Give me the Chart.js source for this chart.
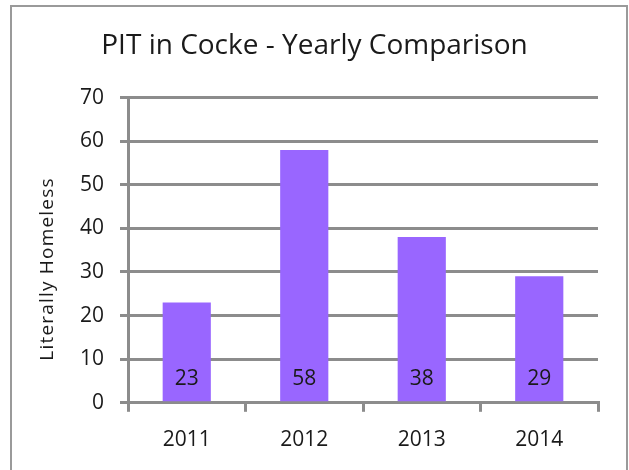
<!DOCTYPE html>
<html>
<head>
<meta charset="utf-8">
<script src="https://cdn.jsdelivr.net/npm/chart.js@4"></script>
<style>
  html, body { margin: 0; padding: 0; background: #fff; overflow: hidden; }
  #wrap { position: relative; width: 629px; height: 470px; }
  #frame { position: absolute; left: 10px; top: 5px; width: 614px; height: 480px;
           border: 2px solid #9a9a9a; pointer-events: none; }
</style>
</head>
<body>
<div id="wrap">
  <canvas id="chart" width="629" height="470"></canvas>
  <div id="frame"></div>
</div>
<script>
const years = ["2011", "2012", "2013", "2014"];
const homeless = [23, 58, 38, 29];
const yTicks = [0, 10, 20, 30, 40, 50, 60, 70];
const yTitle = "Literally Homeless";

const gridGray = "#8c8c8c";
const textCol = "#1a1a1a";
const fontFam = "'Open Sans', sans-serif";

// value labels sitting at the bottom of each bar, plus the spaced-out y title
const extras = {
    id: "extras",
    afterDatasetsDraw(chart) {
        const ctx = chart.ctx;
        const meta = chart.getDatasetMeta(0);
        const base = chart.scales.y.getPixelForValue(0);
        ctx.save();
        ctx.font = "21px " + fontFam;
        ctx.fillStyle = textCol;
        ctx.textAlign = "center";
        ctx.textBaseline = "middle";
        meta.data.forEach((bar, i) => {
            ctx.fillText(String(homeless[i]), bar.x, base - 24);
        });
        ctx.restore();

        ctx.save();
        ctx.font = "19px " + fontFam;
        ctx.letterSpacing = "1.2px";
        ctx.fillStyle = textCol;
        ctx.textAlign = "center";
        ctx.textBaseline = "middle";
        ctx.translate(48, 269);
        ctx.rotate(-Math.PI / 2);
        ctx.fillText(yTitle, 0, 0);
        ctx.restore();
    }
};

new Chart(document.getElementById("chart").getContext("2d"), {
    type: "bar",
    data: {
        labels: years,
        datasets: [{
            label: yTitle,
            data: homeless,
            backgroundColor: "#9966ff",
            borderWidth: 0,
            categoryPercentage: 1,
            barPercentage: 0.41
        }]
    },
    options: {
        responsive: false,
        animation: false,
        layout: { padding: { left: 31, right: 31, top: 0, bottom: 1 } },
        plugins: {
            legend: { display: false },
            tooltip: { enabled: false },
            title: {
                display: true,
                text: "PIT in Cocke - Yearly Comparison",
                color: textCol,
                font: { family: fontFam, size: 28, weight: "normal" },
                padding: { top: 29, bottom: 35 }
            }
        },
        scales: {
            x: {
                grid: { drawOnChartArea: false, drawTicks: true, tickLength: 9, color: gridGray, lineWidth: 3 },
                border: { color: gridGray, width: 3 },
                ticks: { color: textCol, font: { family: fontFam, size: 21 }, padding: 16 }
            },
            y: {
                min: 0,
                max: 70,
                afterBuildTicks(scale) {
                    scale.ticks = yTicks.map(v => ({ value: v }));
                },
                afterFit(scale) { scale.width = 97; },
                grid: { color: gridGray, lineWidth: 3, tickLength: 8 },
                border: { color: gridGray, width: 3 },
                ticks: { color: textCol, font: { family: fontFam, size: 21 }, padding: 16 }
            }
        }
    },
    plugins: [extras]
});
</script>
</body>
</html>
